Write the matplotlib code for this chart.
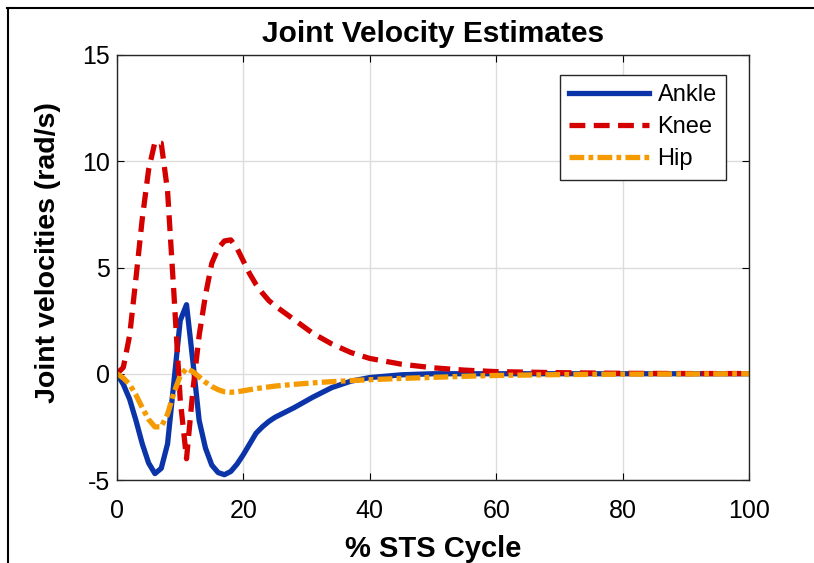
import matplotlib
matplotlib.use("Agg")
import matplotlib.pyplot as plt
from matplotlib.lines import Line2D

# % of sit-to-stand cycle
pct = [0, 1, 2, 3, 4, 5, 6, 7, 8, 9, 10, 11, 12, 13, 14, 15, 16, 17, 18, 19, 20,
       21, 22, 23, 24, 25, 28, 31, 34, 37, 40, 45, 50, 55, 60, 70, 80, 90, 100]

# joint velocities (rad/s)
ankle = [0, -0.5, -1.2, -2.2, -3.3, -4.2, -4.7, -4.45, -3.3, -0.4, 2.5, 3.25, 0.6, -2.2,
         -3.5, -4.3, -4.65, -4.75, -4.6, -4.25, -3.8, -3.3, -2.8, -2.5, -2.25, -2.05,
         -1.6, -1.1, -0.65, -0.35, -0.18, -0.05, 0.0, 0.0, 0.0, 0.0, 0.0, 0.0, 0.0]
knee = [0, 0.3, 1.8, 4.5, 7.3, 9.6, 10.9, 10.85, 8.6, 3.8, -1.2, -4.0, -0.8, 1.8,
        3.7, 5.2, 5.9, 6.25, 6.3, 5.9, 5.3, 4.7, 4.2, 3.8, 3.45, 3.2,
        2.55, 1.9, 1.4, 1.0, 0.72, 0.45, 0.28, 0.17, 0.1, 0.05, 0.02, 0.01, 0.01]
hip = [0, -0.2, -0.5, -1.0, -1.6, -2.15, -2.5, -2.5, -1.9, -0.9, -0.1, 0.25, 0.1, -0.15,
       -0.4, -0.6, -0.75, -0.85, -0.87, -0.85, -0.8, -0.75, -0.7, -0.66, -0.62, -0.58,
       -0.5, -0.43, -0.37, -0.32, -0.28, -0.22, -0.17, -0.12, -0.08, -0.04, -0.02, -0.01, 0]

plt.rcParams['font.family'] = ['Liberation Sans', 'DejaVu Sans']
plt.rcParams['axes.unicode_minus'] = False

fig = plt.figure(figsize=(8.14, 5.63), dpi=100)
ax = fig.add_axes([117 / 814, 1 - 480 / 563, 632 / 814, 425 / 563])

ax.plot(pct, ankle, color='#0a34a8', lw=3.8, label='Ankle')
ax.plot(pct, knee, color='#d40000', lw=3.8, dashes=(3, 1.6), label='Knee')
ax.plot(pct, hip, color='#f59a00', lw=3.8, dashes=(2.8, 0.8, 0.9, 0.8), label='Hip')

ax.set_xlim(0, 100)
ax.set_ylim(-5, 15)
ax.set_xticks([0, 20, 40, 60, 80, 100])
ax.set_yticks([-5, 0, 5, 10, 15])
ax.grid(True, color='#dcdcdc', lw=1)
ax.set_axisbelow(True)
ax.tick_params(direction='in', length=5, top=True, right=True, labelsize=18)
ax.tick_params(axis='x', pad=14)
ax.tick_params(axis='y', pad=5)
for s in ax.spines.values():
    s.set_color('#262626')
    s.set_linewidth(1)

ax.set_title('Joint Velocity Estimates', fontsize=21.5, fontweight='bold', pad=9)
ax.set_xlabel('% STS Cycle', fontsize=21, fontweight='bold', labelpad=8)
ax.set_ylabel('Joint velocities (rad/s)', fontsize=20.5, fontweight='bold')
ax.yaxis.set_label_coords(-0.088, 0.534)

leg = ax.legend(loc='upper right', bbox_to_anchor=(0.964, 0.953), borderaxespad=0,
                fontsize=17, fancybox=False, framealpha=1, edgecolor='#262626',
                handlelength=3.4, handletextpad=0.35, labelspacing=0.42, borderpad=0.4)
leg.get_frame().set_linewidth(1)

# outer frame lines (top and left)
fig.add_artist(Line2D([7 / 814, 1], [1 - 8 / 563, 1 - 8 / 563], color='black', lw=1.5))
fig.add_artist(Line2D([8 / 814, 8 / 814], [0, 1 - 8 / 563], color='black', lw=1.5))

fig.savefig('out.png', dpi=100)
